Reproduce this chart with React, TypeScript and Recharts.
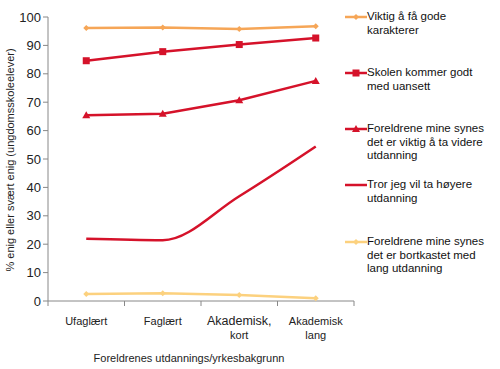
import { LineChart, Line, XAxis, YAxis } from "recharts";

const categories = ["Ufaglært", "Faglært", "Akademisk, kort", "Akademisk lang"];
// how the tick labels break into lines
const tickLines: string[][] = [["Ufaglært"], ["Faglært"], ["Akademisk,", "kort"], ["Akademisk", "lang"]];
const yTicks = [0, 10, 20, 30, 40, 50, 60, 70, 80, 90, 100];

const viktigKarakterer = [96.1, 96.3, 95.8, 96.7];
const skolenKommer = [84.6, 87.8, 90.3, 92.6];
const foreldreViktig = [65.4, 65.9, 70.7, 77.5];
const hoyereUtdanning = [21.9, 21.4, 36.9, 54.4];
const foreldreBortkastet = [2.5, 2.7, 2.1, 0.95];

const seriesNames = [
  "Viktig å få gode karakterer",
  "Skolen kommer godt med uansett",
  "Foreldrene mine synes det er viktig å ta videre utdanning",
  "Tror jeg vil ta høyere utdanning",
  "Foreldrene mine synes det er bortkastet med lang utdanning",
];

const legendLines: string[][] = [
  ["Viktig å få gode", "karakterer"],
  ["Skolen kommer godt", "med uansett"],
  ["Foreldrene mine synes", "det er viktig å ta videre", "utdanning"],
  ["Tror jeg vil ta høyere", "utdanning"],
  ["Foreldrene mine synes", "det er bortkastet med", "lang utdanning"],
];

const data = categories.map((c, i) => ({
  cat: c,
  s1: viktigKarakterer[i],
  s2: skolenKommer[i],
  s3: foreldreViktig[i],
  s4: hoyereUtdanning[i],
  s5: foreldreBortkastet[i],
}));

const ORANGE = "#f6a657";
const RED = "#d5122a";
const PALE = "#fcd17e";
const FONT = "'Liberation Sans', Arial, sans-serif";
const HALF_BAND = 38.25;

const colors = [ORANGE, RED, RED, RED, PALE];
const legendTops = [10, 66, 122, 178, 235];

function Diamond({ cx, cy, fill }: any) {
  if (cx == null || cy == null) return null;
  return <path d={`M${cx},${cy - 3}L${cx + 3},${cy}L${cx},${cy + 3}L${cx - 3},${cy}Z`} fill={fill} />;
}
function Square({ cx, cy, fill }: any) {
  if (cx == null || cy == null) return null;
  return <rect x={cx - 3.5} y={cy - 3.5} width={7} height={7} fill={fill} />;
}
function Triangle({ cx, cy, fill }: any) {
  if (cx == null || cy == null) return null;
  return <path d={`M${cx},${cy - 4}L${cx + 4},${cy + 3}L${cx - 4},${cy + 3}Z`} fill={fill} />;
}

function CatTick({ x, y, payload, index }: any) {
  const lines = tickLines[index] ?? [payload.value];
  return (
    <g>
      <line x1={x - HALF_BAND} x2={x - HALF_BAND} y1={y - 8} y2={y - 3} stroke="#888" />
      {index === categories.length - 1 && (
        <line x1={x + HALF_BAND} x2={x + HALF_BAND} y1={y - 8} y2={y - 3} stroke="#888" />
      )}
      {lines.map((l, k) => (
        <text
          key={k}
          x={x}
          y={y + 16 + k * 14}
          textAnchor="middle"
          fontSize={index === 2 && k === 0 ? 12.5 : 11}
          fill="#222"
          fontFamily={FONT}
        >
          {l}
        </text>
      ))}
    </g>
  );
}

function LegendBox() {
  const markers = [Diamond, Square, Triangle, null, Diamond];
  return (
    <div style={{ position: "absolute", left: 345, top: 0, width: 155, height: 280 }}>
      {legendLines.map((lines, i) => {
        const M = markers[i];
        return (
          <div key={seriesNames[i]} style={{ position: "absolute", left: 0, top: legendTops[i] }}>
            <svg width={22} height={14} style={{ position: "absolute", left: 0, top: 0 }}>
              <line x1={0} x2={22} y1={7} y2={7} stroke={colors[i]} strokeWidth={2.5} />
              {M && <M cx={11} cy={7} fill={colors[i]} />}
            </svg>
            <div
              style={{
                position: "absolute",
                left: 22,
                top: 0,
                width: 133,
                fontSize: 11.5,
                lineHeight: "13.5px",
                fontFamily: FONT,
                color: "#111",
              }}
            >
              {lines.map((l, k) => (
                <div key={k} style={{ whiteSpace: "nowrap" }}>{l}</div>
              ))}
            </div>
          </div>
        );
      })}
    </div>
  );
}

export default function App() {
  return (
    <div style={{ position: "absolute", left: 0, top: 0, width: 500, height: 369, background: "#fff" }}>
      <LineChart width={500} height={369} data={data} margin={{ top: 17, right: 146, bottom: 0, left: 8 }}>
        <XAxis
          dataKey="cat"
          padding={{ left: HALF_BAND, right: HALF_BAND }}
          axisLine={{ stroke: "#888" }}
          tickLine={false}
          tick={<CatTick />}
          interval={0}
          height={68}
        />
        <YAxis
          domain={[0, 100]}
          ticks={yTicks}
          width={40}
          axisLine={{ stroke: "#888" }}
          tickLine={{ stroke: "#888" }}
          tickSize={5}
          tick={{ fontSize: 13, fill: "#222", fontFamily: FONT }}
          interval={0}
        />
        <Line dataKey="s1" name={seriesNames[0]} stroke={ORANGE} strokeWidth={2.5} dot={<Diamond fill={ORANGE} />} isAnimationActive={false} />
        <Line dataKey="s2" name={seriesNames[1]} stroke={RED} strokeWidth={2.5} dot={<Square fill={RED} />} isAnimationActive={false} />
        <Line dataKey="s3" name={seriesNames[2]} stroke={RED} strokeWidth={2.5} dot={<Triangle fill={RED} />} isAnimationActive={false} />
        <Line type="monotone" dataKey="s4" name={seriesNames[3]} stroke={RED} strokeWidth={2.5} dot={false} isAnimationActive={false} />
        <Line dataKey="s5" name={seriesNames[4]} stroke={PALE} strokeWidth={2.5} dot={<Diamond fill={PALE} />} isAnimationActive={false} />
        <text x={10} y={160} transform="rotate(-90 10 160)" textAnchor="middle" dominantBaseline="central" fontSize={11} fill="#222" fontFamily={FONT}>
          % enig eller svært enig (ungdomsskoleelever)
        </text>
        <text x={189} y={362} textAnchor="middle" fontSize={11} fill="#222" fontFamily={FONT}>
          Foreldrenes utdannings/yrkesbakgrunn
        </text>
      </LineChart>
      <LegendBox />
    </div>
  );
}
